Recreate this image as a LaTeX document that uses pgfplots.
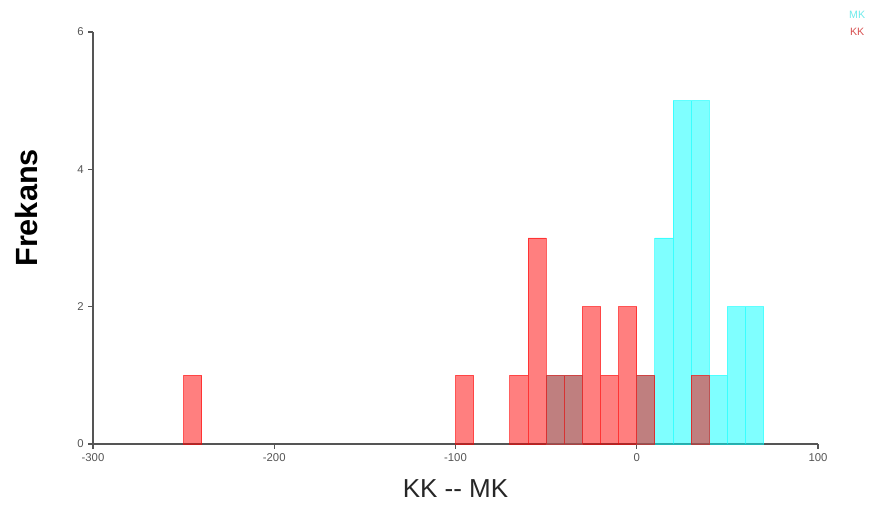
\documentclass[border=0pt]{standalone}
\usepackage{pgfplots}
\pgfplotsset{compat=1.18}
\usepackage{fontspec}
\setmainfont{Liberation Sans}
\definecolor{axgray}{RGB}{85,85,85}
\definecolor{mkcyan}{RGB}{0,255,255}
\definecolor{kkred}{RGB}{255,0,0}
\definecolor{mktext}{RGB}{110,235,235}
\definecolor{kktext}{RGB}{215,80,80}
\begin{document}
\begin{tikzpicture}
% canvas: 874 x 507 units of 0.75pt
\useasboundingbox (0pt,0pt) rectangle (655.5pt,380.25pt);
\begin{axis}[
  at={(69.75pt,47.25pt)}, anchor=south west,
  scale only axis, width=543.75pt, height=309pt,
  xmin=-300, xmax=100, ymin=0, ymax=6,
  axis lines*=left,
  axis line style={axgray, line width=0.8pt},
  xtick={-300,-200,-100,0,100},
  ytick={0,2,4,6},
  tick align=outside, major tick length=3.5pt,
  tick style={axgray, line width=0.8pt},
  ticklabel style={font=\fontsize{8.5}{10}\selectfont, text=axgray},
  /pgf/number format/assume math mode=true,
  xlabel={KK {-}{-} MK},
  xlabel style={font=\fontsize{19.5}{22}\selectfont, text=black!85, at={(axis description cs:0.5,-0.109)}, anchor=center},
  ylabel={\textbf{Frekans}},
  ylabel style={font=\fontsize{23}{26}\selectfont, text=black, at={(axis description cs:-0.091,0.573)}, anchor=center, rotate=0},
  legend style={draw=none, fill=none, at={(axis description cs:1.054,1.065)}, anchor=north, font=\fontsize{8}{10}\selectfont, row sep=2pt},
  legend cell align=center,
  ybar, bar width=10, bar shift=0pt,
]
% MK distribution
\addplot[fill=mkcyan, fill opacity=0.5, draw=mkcyan, draw opacity=0.55, line width=0.6pt,
  legend image code/.code={}]
  coordinates {(-45,1) (-35,1) (5,1) (15,3) (25,5) (35,5) (45,1) (55,2) (65,2)};
\addlegendentry{\textcolor{mktext}{MK}}
% KK distribution
\addplot[fill=kkred, fill opacity=0.5, draw=kkred, draw opacity=0.6, line width=0.6pt,
  legend image code/.code={}]
  coordinates {(-245,1) (-95,1) (-65,1) (-55,3) (-45,1) (-35,1) (-25,2) (-15,1) (-5,2) (5,1) (35,1)};
\addlegendentry{\textcolor{kktext}{KK}}
\end{axis}
\end{tikzpicture}
\end{document}
